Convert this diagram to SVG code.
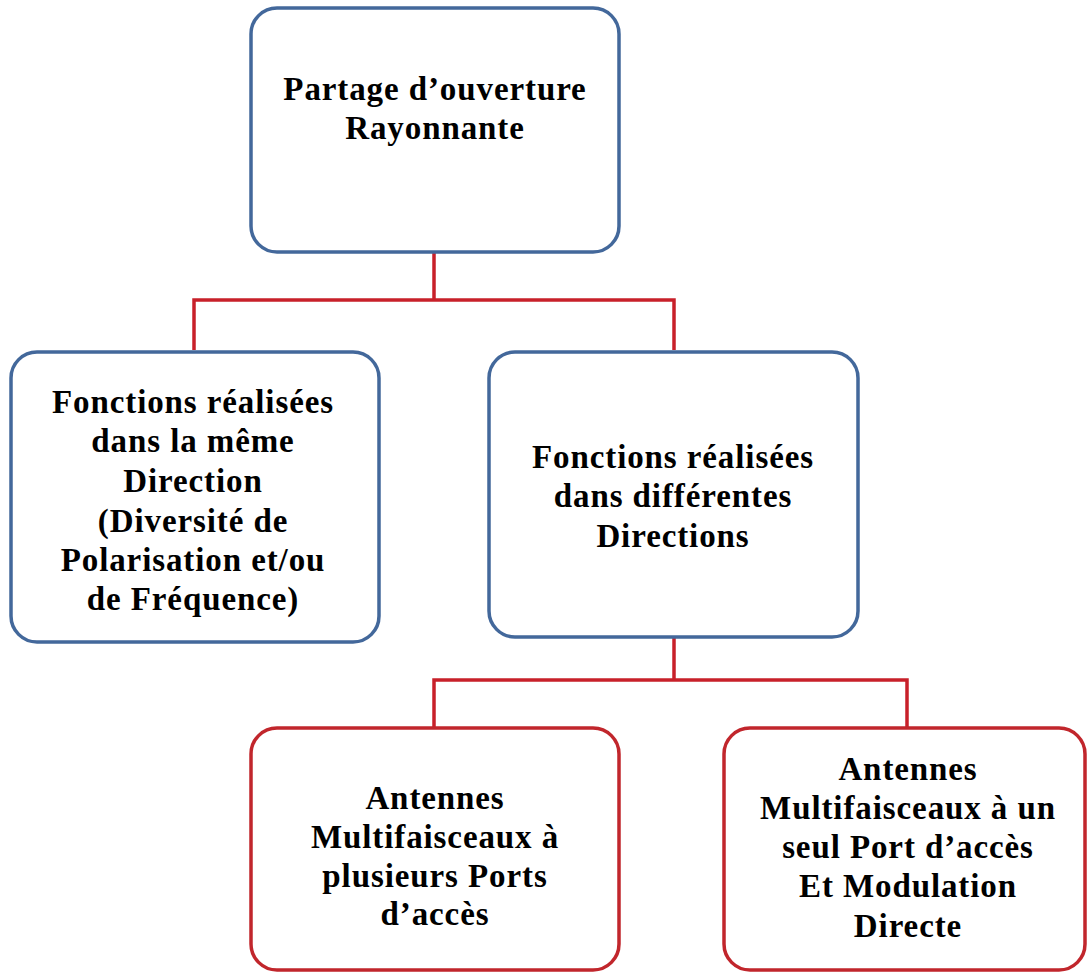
<svg xmlns="http://www.w3.org/2000/svg" width="1087" height="974" viewBox="0 0 1087 974">
<style>
.blue{fill:#ffffff;stroke:#43689b;stroke-width:3.5}
.red{fill:#ffffff;stroke:#c1262c;stroke-width:3.5}
.conn{fill:none;stroke:#c8202a;stroke-width:3.5;stroke-linejoin:miter}
text{font-family:"Liberation Serif","Times New Roman",serif;font-weight:bold;font-size:33px;letter-spacing:0.9px;fill:#000;text-anchor:middle}
</style>
<rect width="1087" height="974" fill="#ffffff"/>
<g id="connectors">
<path class="conn" d="M434,252 V300 M194,350 V300 H674 V350"/>
<path class="conn" d="M674,637 V680 M434,727 V680 H907 V727"/>
</g>
<g id="node-top">
<rect class="blue" x="251" y="8" width="368" height="244" rx="26"/>
<text x="435" y="100">Partage d’ouverture</text>
<text x="435" y="139">Rayonnante</text>
</g>
<g id="node-left">
<rect class="blue" x="11" y="352" width="368" height="290" rx="26"/>
<text x="193" y="413">Fonctions réalisées</text>
<text x="193" y="452">dans la même</text>
<text x="193" y="492">Direction</text>
<text x="193" y="532">(Diversité de</text>
<text x="193" y="571">Polarisation et/ou</text>
<text x="193" y="610">de Fréquence)</text>
</g>
<g id="node-middle">
<rect class="blue" x="489" y="352" width="369" height="285" rx="26"/>
<text x="673" y="468">Fonctions réalisées</text>
<text x="673" y="507">dans différentes</text>
<text x="673" y="547">Directions</text>
</g>
<g id="node-bottom-left">
<rect class="red" x="251" y="728" width="368" height="242" rx="26"/>
<text x="435" y="809">Antennes</text>
<text x="435" y="848">Multifaisceaux à</text>
<text x="435" y="887">plusieurs Ports</text>
<text x="435" y="925">d’accès</text>
</g>
<g id="node-bottom-right">
<rect class="red" x="724" y="728" width="361" height="242" rx="26"/>
<text x="908" y="780">Antennes</text>
<text x="908" y="819">Multifaisceaux à un</text>
<text x="908" y="858">seul Port d’accès</text>
<text x="908" y="897">Et Modulation</text>
<text x="908" y="937">Directe</text>
</g>
</svg>
